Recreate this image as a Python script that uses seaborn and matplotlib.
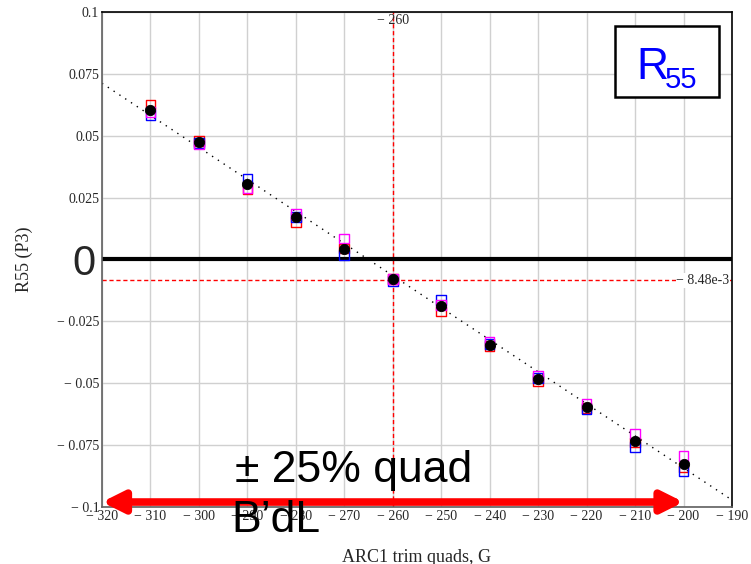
import numpy as np
import pandas as pd
import matplotlib
matplotlib.use("Agg")
import matplotlib.pyplot as plt
from matplotlib.patches import Rectangle
import seaborn as sns

# trim quad settings and measured R55 (P3)
trim = [-310, -300, -290, -280, -270, -260, -250, -240, -230, -220, -210, -200]
r55_mean = [0.0606, 0.0476, 0.0305, 0.0170, 0.0044, -0.0080, -0.0188, -0.0344, -0.0482, -0.0595, -0.0734, -0.0827]
r55_red = [0.0626, 0.0478, 0.0285, 0.0152, 0.0044, -0.0080, -0.0210, -0.0350, -0.0490, -0.0600, -0.0740, -0.0840]
r55_blue = [0.0585, 0.0470, 0.0325, 0.0172, 0.0018, -0.0088, -0.0163, -0.0342, -0.0480, -0.0605, -0.0758, -0.0855]
r55_magenta = [0.0595, 0.0465, 0.0290, 0.0185, 0.0085, -0.0078, -0.0185, -0.0332, -0.0470, -0.0585, -0.0706, -0.0794]
fit_x = [-320, -190]
fit_y = [0.0712, -0.0972]
x_ticks = [-320, -310, -300, -290, -280, -270, -260, -250, -240, -230, -220, -210, -200, -190]
y_ticks = [-0.1, -0.075, -0.05, -0.025, 0.025, 0.05, 0.075, 0.1]
cross_x = -260
cross_y = -8.48e-3
arrow_x = [-320, -200]

sns.set_style("white")
plt.rcParams['font.family'] = ['Liberation Serif', 'DejaVu Serif']

fig = plt.figure(figsize=(7.51, 5.64), dpi=100)
ax = fig.add_axes([0.1358, 0.1011, 0.9747 - 0.1358, 0.9787 - 0.1011])

ax.set_xlim(-320, -190)
ax.set_ylim(-0.1, 0.1)
ax.set_xticks(x_ticks)
ax.set_yticks(y_ticks + [0.0])
ax.grid(True, color='#d0d0d0', lw=1)
ax.set_axisbelow(True)

def fmt(v):
    s = ('%g' % abs(v))
    return ('\u2212 ' + s) if v < 0 else s

ax.set_xticklabels([fmt(v) for v in x_ticks], fontsize=10)
ax.set_yticklabels([fmt(v) for v in y_ticks] + [''], fontsize=10)
ax.tick_params(length=0, pad=2)

# fit line
sns.lineplot(x=fit_x, y=fit_y, ax=ax, color='black', lw=1, linestyle=(0, (1, 4)))

df = pd.DataFrame({'trim': trim, 'red': r55_red, 'blue': r55_blue, 'mag': r55_magenta, 'mean': r55_mean})
for col, c in [('red', 'red'), ('blue', 'blue'), ('mag', 'magenta')]:
    sns.scatterplot(data=df, x='trim', y=col, ax=ax, marker='s', s=48, facecolor='none',
                    edgecolor=c, linewidth=1.0, zorder=3)
sns.scatterplot(data=df, x='trim', y='mean', ax=ax, marker='o', s=55, color='black',
                edgecolor='black', zorder=4)

# crosshair
ax.axvline(cross_x, color='red', ls=(0, (3, 2)), lw=1)
ax.axhline(cross_y, color='red', ls=(0, (3, 2)), lw=1)
ax.text(cross_x, 0.0965, '\u2212 260', ha='center', va='center', fontsize=10)
ax.text(-190.5, cross_y, '\u2212 8.48e-3', ha='right', va='center', fontsize=10,
        bbox=dict(facecolor='white', edgecolor='none', pad=0.5))

# zero line
ax.axhline(0, color='black', lw=3, zorder=2)
ax.text(-321.4, -0.0061, '0', ha='right', va='baseline', fontsize=30, family='Liberation Sans',
        clip_on=False)

# arrow
ax.annotate('', xy=(arrow_x[0], -0.098), xytext=(arrow_x[1], -0.098),
            arrowprops=dict(arrowstyle='<|-|>', color='red', lw=5.5, mutation_scale=32,
                            shrinkA=0, shrinkB=0), zorder=5)
ax.text(-292.6, -0.0899, '\u00b1 25% quad', fontsize=32, family='Liberation Sans',
        color='black', va='baseline', ha='left', zorder=8)
ax.text(-293.2, -0.110, 'B\u2019dL', fontsize=32, family='Liberation Sans', color='black',
        va='baseline', ha='left', clip_on=False, zorder=8)

# R55 label box
ax.add_patch(Rectangle((0.814, 0.828), 0.165, 0.143, transform=ax.transAxes,
                       facecolor='white', edgecolor='black', lw=1.8, zorder=6))
ax.text(0.849, 0.865, 'R', transform=ax.transAxes, fontsize=32, color='blue',
        family='Liberation Sans', va='baseline', ha='left', zorder=7)
ax.text(0.894, 0.846, '55', transform=ax.transAxes, fontsize=21, color='blue',
        family='Liberation Sans', va='baseline', ha='left', zorder=7)

for side in ['top', 'right']:
    ax.spines[side].set_color('black')
for side in ['left', 'bottom']:
    ax.spines[side].set_color('#606060')
for sp in ax.spines.values():
    sp.set_visible(True)
    sp.set_linewidth(1.2)

ax.set_xlabel('ARC1 trim quads, G', fontsize=13)
ax.xaxis.set_label_coords(0.5, -0.084)
ax.set_ylabel('R55 (P3)', fontsize=13)
ax.yaxis.set_label_coords(-0.109, 0.5)

fig.savefig('out.png', dpi=100)
